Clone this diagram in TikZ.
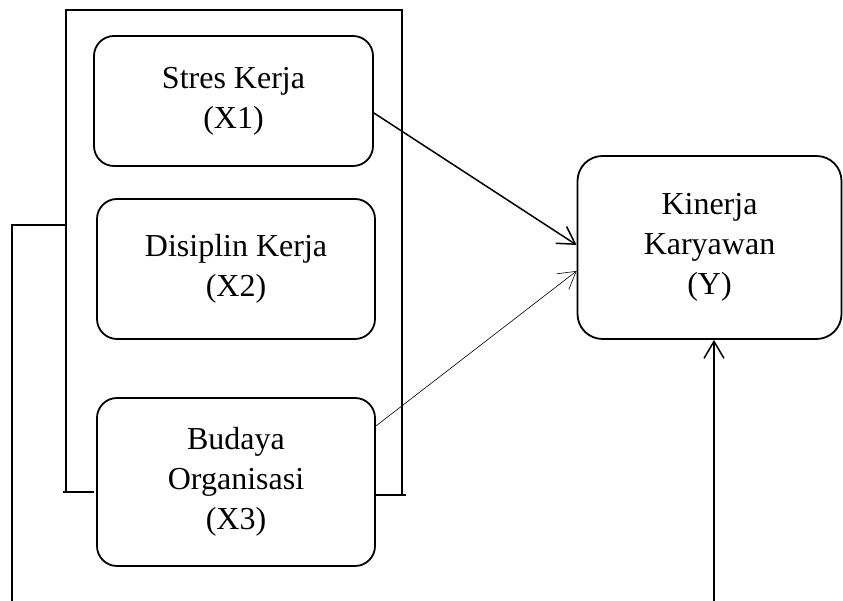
\documentclass[tikz,border=0pt]{standalone}
\usepackage{fontspec}
\setmainfont{Liberation Serif}
\usetikzlibrary{arrows.meta}
\begin{document}
\begin{tikzpicture}[x=1pt,y=1pt,
  box/.style={draw, line width=1.8pt, rounded corners=20pt, align=center,
    font=\fontsize{32}{40}\selectfont, inner sep=0pt},
  frame/.style={line width=1.8pt},
  arr/.style={line width=1.5pt, -{Straight Barb[length=17pt,width=20pt]}},
  thinarr/.style={line width=0.6pt, -{Straight Barb[length=17pt,width=20pt]}}]
\useasboundingbox (0,0) rectangle (843,601);
\node[box, minimum width=279pt, minimum height=130pt] (x1) at (233.5,500) {Stres Kerja\\(X1)};
\node[box, minimum width=278pt, minimum height=140pt] (x2) at (236,332) {Disiplin Kerja\\(X2)};
\node[box, minimum width=278pt, minimum height=168pt] (x3) at (236,119) {Budaya\\Organisasi\\(X3)};
\node[box, rounded corners=25pt, minimum width=264pt, minimum height=183pt] (y) at (709.5,353.5) {Kinerja\\Karyawan\\(Y)};
% frame around the independent variables
\coordinate (fbl) at (66,109);
\coordinate (ftl) at (66,591);
\coordinate (ftr) at (402,591);
\coordinate (fbr) at (402,106);
\coordinate (fbl0) at (63,109);
\coordinate (fbr0) at (406,106);
\draw[frame] (fbl0) -- ([xshift=-2pt]x3.west |- fbl) ;
\draw[frame] (fbl0 -| fbl) -- (ftl) -- (ftr) -- (fbr);
\draw[frame] (x3.east |- fbr) -- (fbr0);
% left bracket
\coordinate (lb1) at (66,376);
\coordinate (lb2) at (12,376);
\coordinate (lb3) at (12,0);
\draw[frame] (lb1) -- (lb2) -- (lb3);
% arrows
\draw[arr] ([yshift=-12pt]x1.east) -- ([yshift=2.5pt]y.west);
\draw[thinarr] ([yshift=56pt]x3.east) -- ([yshift=-23.5pt]y.west);
\coordinate (ybot) at (714,0);
\draw[arr] (ybot) -- (y.south -| ybot);
\end{tikzpicture}
\end{document}
